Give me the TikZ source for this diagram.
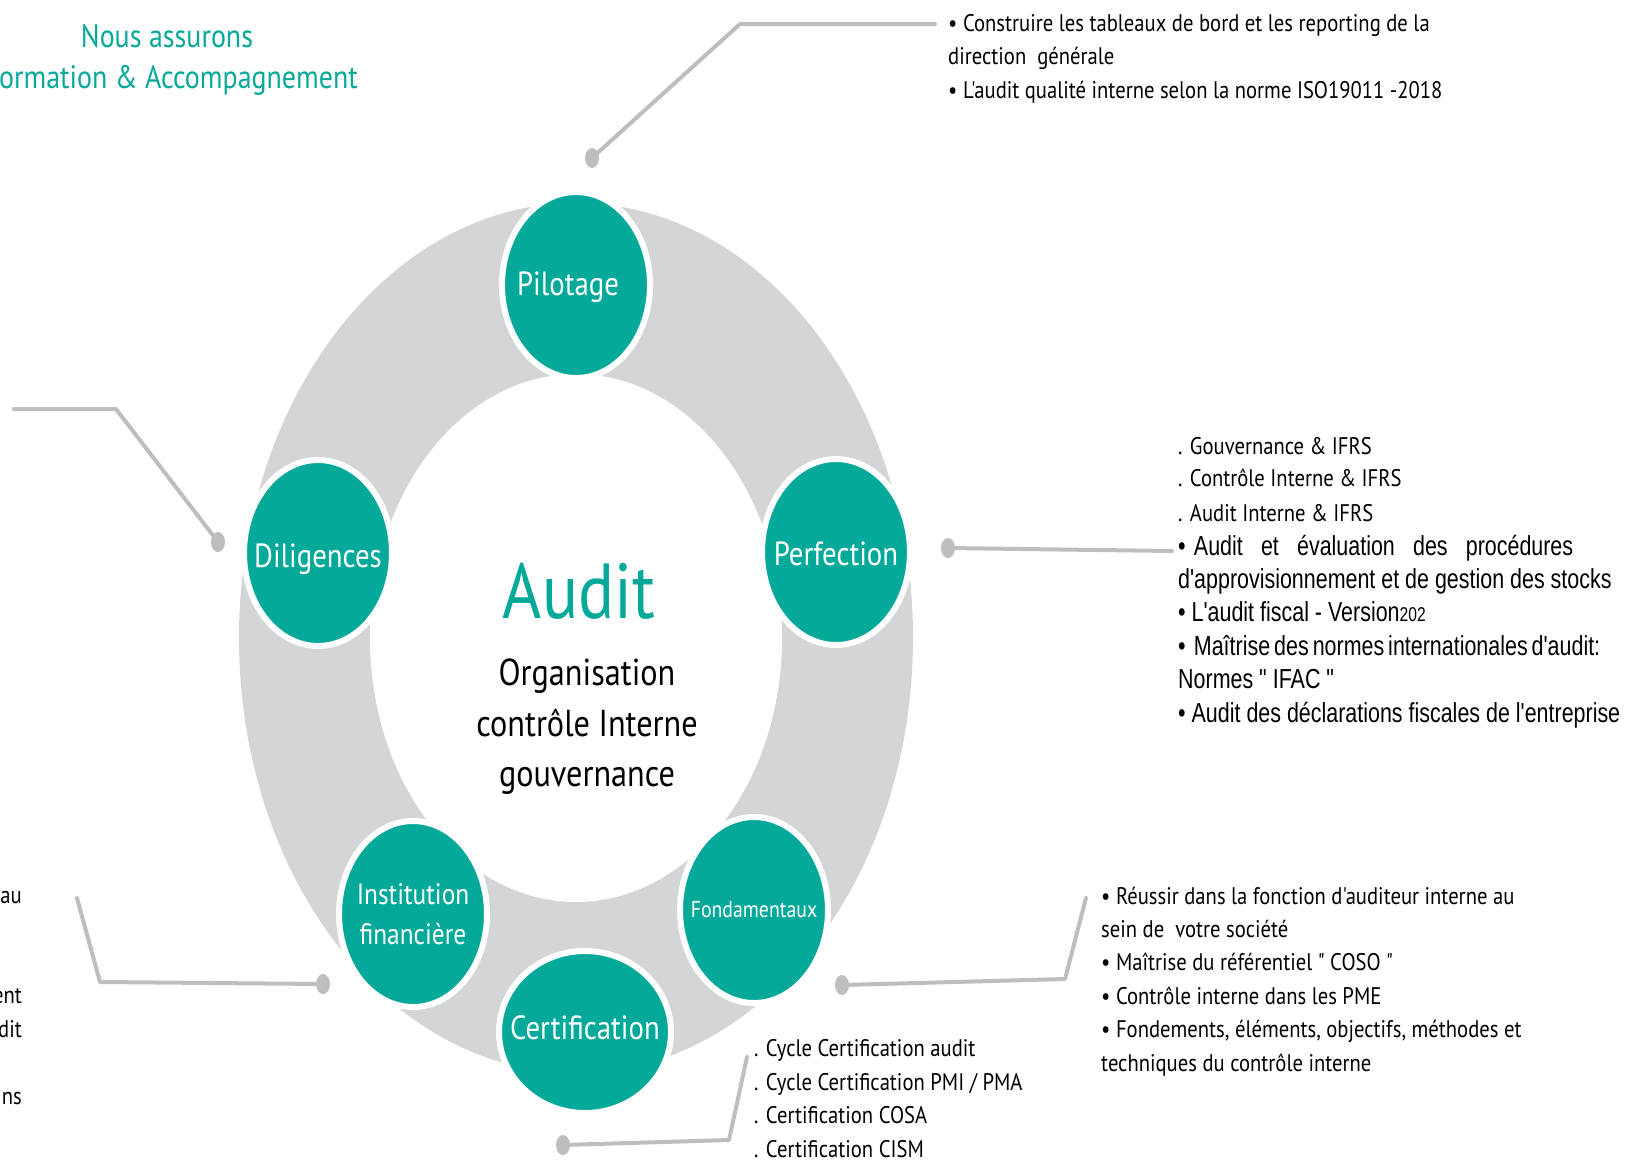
\documentclass[tikz,border=0pt]{standalone}
\usepackage{fontspec}
\setmainfont{PT Sans}[FakeStretch=0.86, Ligatures=TeXOff]
\newfontfamily\narrowsans{Liberation Sans}[FakeStretch=0.78, Ligatures=TeXOff]
\usetikzlibrary{shapes.geometric, positioning}

\definecolor{auditteal}{HTML}{04A99A}
\definecolor{ringgray}{HTML}{D4D5D7}
\definecolor{wiregray}{HTML}{BDBEC0}

\tikzset{
  stage/.style={ellipse, fill=auditteal, draw=white, line width=6pt,
    minimum width=148pt, minimum height=186pt, inner sep=0pt},
  stagetext/.style={text=white, align=center, inner sep=0pt, font=\fontsize{33.5}{40}\selectfont},
  knob/.style={ellipse, fill=wiregray, minimum width=14pt, minimum height=20pt, inner sep=0pt},
  wire/.style={draw=wiregray, line width=4pt, line join=round, line cap=round},
  listtext/.style={anchor=base west, inner sep=0pt, align=left,
    font=\fontsize{24}{33.4}\selectfont}
}
\newcommand{\helv}{\narrowsans\fontsize{27.5}{33.4}\selectfont}

\begin{document}
\begin{tikzpicture}[x=1pt, y=-1pt]
  \useasboundingbox (0,0) rectangle (1634,1160);

  % ring
  \fill[ringgray] (576,638) ellipse [x radius=337, y radius=435];
  \fill[white] (576,638) ellipse [x radius=206, y radius=264];

  % title
  \node[text=auditteal, font=\fontsize{32.5}{40}\selectfont] (slogan) at (167,36) {Nous assurons};
  \node[text=auditteal, font=\fontsize{32.5}{40}\selectfont, anchor=east, inner sep=0pt] (sloganb) at (358,80) {ormation \& Accompagnement};

  % centre
  \node[text=auditteal, font=\fontsize{78}{80}\selectfont] (audit) at (579,591) {Audit};
  \node[align=center, font=\fontsize{37.5}{50.5}\selectfont] (theme) at (587,727) {Organisation\\contrôle Interne\\gouvernance};

  % stages
  \node[stage, label={[stagetext, xshift=-8pt, yshift=-2pt]center:Pilotage}] (pilotage) at (576,285) {};
  \node[stage, label={[stagetext, yshift=-6pt]center:Diligences}] (diligences) at (318,553) {};
  \node[stage, label={[stagetext, yshift=-2pt]center:Perfection}] (perfection) at (836,552) {};
  \node[stage, label={[stagetext, font=\fontsize{29.5}{40}\selectfont]center:{Institution\\financière}}] (institution) at (413,914) {};
  \node[stage, label={[stagetext, font=\fontsize{23}{30}\selectfont]center:Fondamentaux}] (fondamentaux) at (754,910) {};
  \node[stage, minimum width=172pt, minimum height=162pt,
    label={[stagetext, yshift=4pt]center:Certification}] (certification) at (585,1032) {};

  % connectors
  \node[knob] (knobP) at (592,158) {};
  \node[knob] (knobD) at (218,542) {};
  \node[knob] (knobR) at (948,548) {};
  \node[knob] (knobI) at (323,984) {};
  \node[knob] (knobF) at (842,985) {};
  \node[knob] (knobC) at (563,1145) {};
  \coordinate (endP) at (935,24);
  \coordinate (endD) at (14,409);
  \coordinate (endR) at (1172,551);
  \coordinate (endI) at (77,898);
  \coordinate (endF) at (1086,898);
  \coordinate (endC) at (747,1057);
  \draw[wire] (knobP.center) -- (740,24) -- (endP);
  \draw[wire] (knobD.center) -- (116,409) -- (endD);
  \draw[wire] (knobR.center) -- (endR);
  \draw[wire] (knobI.center) -- (100,982) -- (endI);
  \draw[wire] (knobF.center) -- (1065,979) -- (endF);
  \draw[wire] (knobC.center) -- (729,1140) -- (endC);

  % texts
  \node[listtext] (pilotagelist) at (948,98) {\textbullet{} Construire les tableaux de bord et les reporting de la\\direction\ \ générale\\\textbullet{} L'audit qualité interne selon la norme ISO19011 -2018};
  \node[listtext] (perfectionlist) at (1178,722) {. Gouvernance \& IFRS\\[-2pt]. Contrôle Interne \& IFRS\\[2pt]. Audit Interne \& IFRS\\
    {\helv\makebox[395pt][s]{\textbullet\hspace{0.3em}Audit et évaluation des procédures}}\\
    {\helv d'approvisionnement et de gestion des stocks}\\
    {\helv\textbullet{} L'audit fiscal - Version{\fontsize{20}{20}\selectfont 202}}\\
    {\helv\makebox[419pt][s]{\textbullet\hspace{0.3em}Maîtrise des normes internationales d'audit:}}\\
    {\helv Normes " IFAC "}\\
    {\helv\textbullet{} Audit des déclarations fiscales de l'entreprise}};
  \node[listtext] (fondamentauxlist) at (1101,1071) {\textbullet{} Réussir dans la fonction d'auditeur interne au\\sein de\ \ votre société\\\textbullet{} Maîtrise du référentiel " COSO "\\\textbullet{} Contrôle interne dans les PME\\\textbullet{} Fondements, éléments, objectifs, méthodes et\\techniques du contrôle interne};
  \node[listtext] (certificationlist) at (754,1157) {. Cycle Certification audit\\. Cycle Certification PMI / PMA\\. Certification COSA\\. Certification CISM};
  \node[listtext, anchor=base east, align=right] (institutionlist) at (22,1104) {au\\\mbox{}\\\mbox{}\\ent\\dit\\\mbox{}\\ns};
\end{tikzpicture}
\end{document}
